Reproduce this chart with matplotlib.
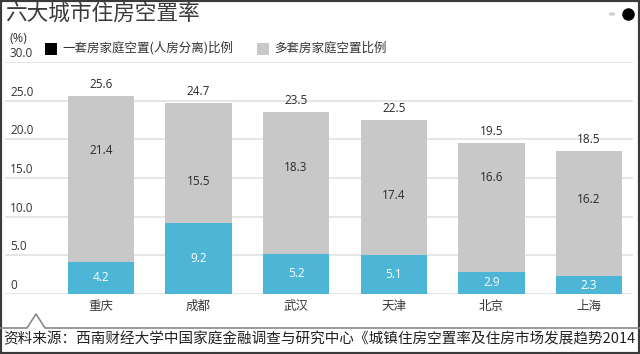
import matplotlib
matplotlib.use('Agg')
import numpy as np
from matplotlib import pyplot as plt
from matplotlib.patches import Rectangle, Circle
from matplotlib.lines import Line2D

cities = ['重庆', '成都', '武汉', '天津', '北京', '上海']
single_vacant = [4.2, 9.2, 5.2, 5.1, 2.9, 2.3]
multi_vacant = [21.4, 15.5, 18.3, 17.4, 16.6, 16.2]
totals = [25.6, 24.7, 23.5, 22.5, 19.5, 18.5]
y_ticks = [0, 5, 10, 15, 20, 25, 30]
y_tick_labels = ['0', '5.0', '10.0', '15.0', '20.0', '25.0', '30.0']

# where the inner grey labels sit (layout only)
multi_label_y = [18.5, 14.6, 16.3, 12.7, 15.1, 12.2]

cjk = ['Noto Sans CJK SC', 'DejaVu Sans']
num = ['Open Sans', 'Noto Sans CJK SC']
blue = '#4db6d6'
grey = '#c8c8c8'

W, H = 640, 354
fig = plt.figure(figsize=(6.4, 3.54), dpi=100)
fig.patch.set_facecolor('white')

def fx(px):
    return px / W

def fy(py):
    return 1 - py / H

ax = fig.add_axes([fx(5), fy(294), fx(628), (294 - 62) / H])
x = np.arange(len(cities))
ax.bar(x, single_vacant, width=0.68, color=blue, zorder=3)
ax.bar(x, multi_vacant, bottom=single_vacant, width=0.68, color=grey, zorder=3)

for yt in y_ticks:
    ax.axhline(yt, color='#e2e2e2', lw=1.2, zorder=1)
ax.set_xlim(-0.98, 5.45)
ax.set_ylim(0, 30)
ax.axis('off')

# y tick labels sit just above gridlines at the left
for yt, lab in zip(y_ticks, y_tick_labels):
    fig.text(fx(10), fy(294 - yt * 232 / 30) + 0.006, lab, fontsize=8.5,
             family=num, color='#333333', ha='left', va='bottom')

for i in range(len(cities)):
    ax.text(x[i], single_vacant[i] / 2, f'{single_vacant[i]}', ha='center', va='center',
            fontsize=8.5, color='white', family=num, zorder=4)
    ax.text(x[i], multi_label_y[i], f'{multi_vacant[i]}', ha='center', va='center',
            fontsize=8.5, color='#2a2a2a', family=num, zorder=4)
    ax.text(x[i], totals[i] + 1.5, f'{totals[i]}', ha='center', va='center',
            fontsize=8.5, color='#2a2a2a', family=num, zorder=4, clip_on=False)
    ax.text(x[i], -1.6, cities[i], ha='center', va='center', fontsize=9,
            color='#3a3a3a', family=cjk, clip_on=False)

# title and header bits
fig.text(fx(5), fy(14), '六大城市住房空置率', fontsize=15.6, family=cjk,
         color='#3a3a3a', ha='left', va='center')
fig.text(fx(9), fy(38), '(%)', fontsize=9, family=num, color='#333333',
         ha='left', va='center')
fig.patches.append(Rectangle((fx(45), fy(55)), fx(12), 12 / H, transform=fig.transFigure,
                             facecolor='black', edgecolor='none'))
fig.text(fx(62), fy(48), '一套房家庭空置(人房分离)比例', fontsize=9, family=cjk,
         color='#333333', ha='left', va='center')
fig.patches.append(Rectangle((fx(257), fy(55)), fx(12), 12 / H, transform=fig.transFigure,
                             facecolor=grey, edgecolor='none'))
fig.text(fx(274), fy(48), '多套房家庭空置比例', fontsize=9, family=cjk,
         color='#333333', ha='left', va='center')

# pager dots
fig.patches.append(Circle((fx(612), fy(14)), 3.2 / W, transform=fig.transFigure,
                          facecolor='#cfcfcf', edgecolor='none'))
fig.add_artist(Line2D([fx(628)], [fy(14)], marker='o', markersize=8,
                      color='black', transform=fig.transFigure))

# source line with notch
lx = [0, 27, 36, 45, 640]
ly = [328, 328, 314, 328, 328]
fig.add_artist(Line2D([fx(v) for v in lx], [fy(v) for v in ly], color='#8a8a8a',
                      lw=1.2, transform=fig.transFigure))
fig.text(fx(3), fy(339), '资料来源：西南财经大学中国家庭金融调查与研究中心《城镇住房空置率及住房市场发展趋势2014',
         fontsize=10.5, family=cjk, color='#222222', ha='left', va='center')

# dark frame
fig.patches.append(Rectangle((0, 0), 1, 1, transform=fig.transFigure, fill=False,
                             edgecolor='#3a3a3a', lw=3))

fig.savefig('out.png', dpi=100)
